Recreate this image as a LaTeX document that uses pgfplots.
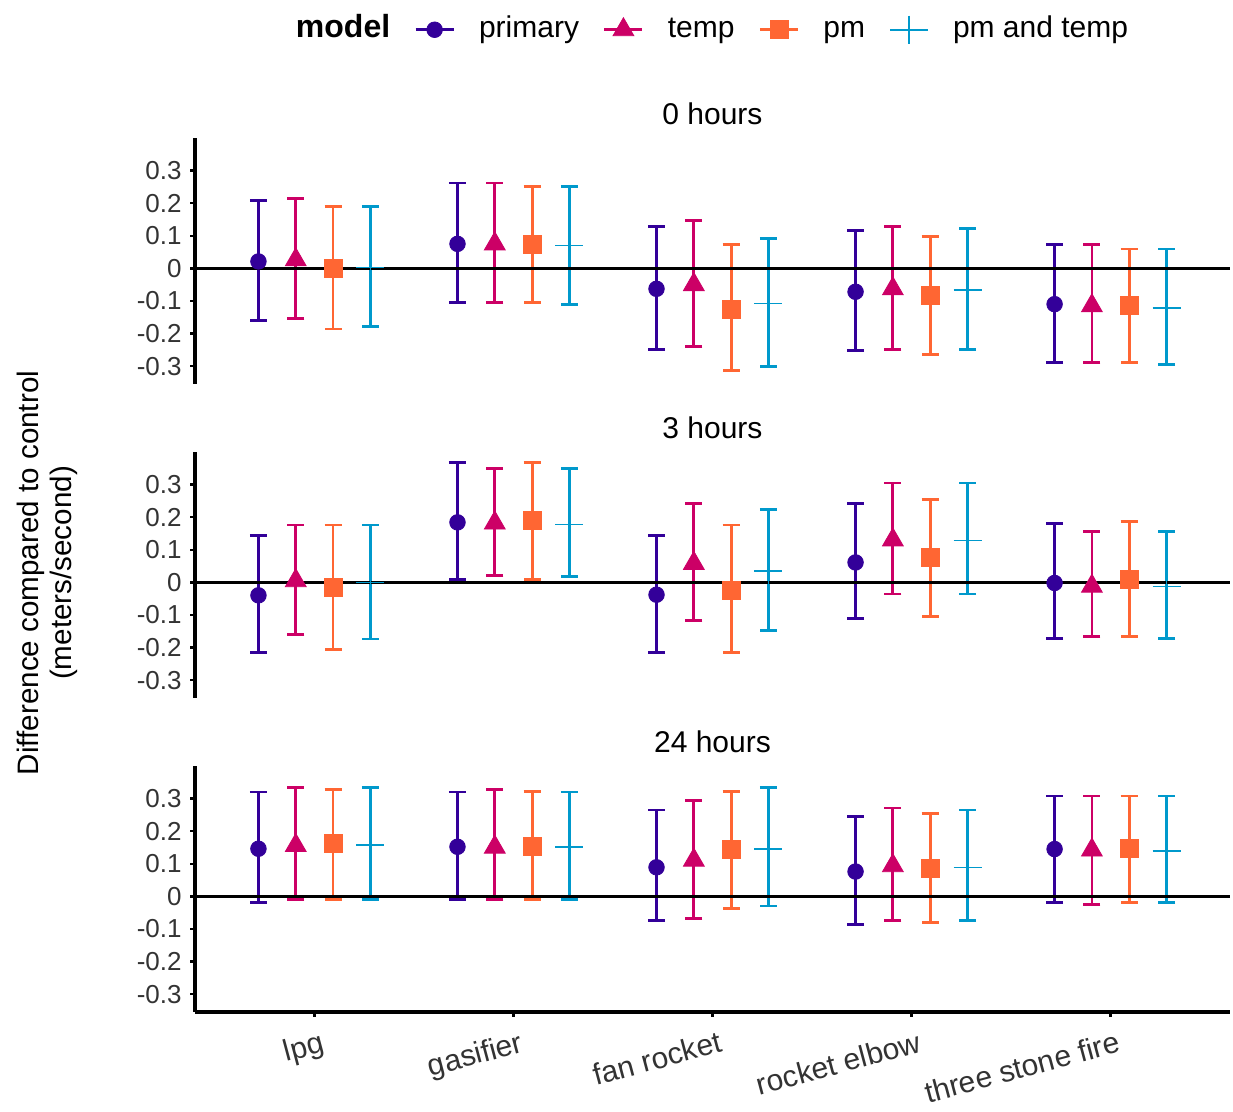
\documentclass[border=0pt]{standalone}
\usepackage{pgfplots}
\pgfplotsset{compat=1.18}
\usepackage{pgfplotstable}
\usepackage{fontspec}
\setmainfont{Liberation Sans}

\definecolor{cprim}{HTML}{330099}
\definecolor{ctemp}{HTML}{CC0066}
\definecolor{cpm}{HTML}{FF6633}
\definecolor{cpmt}{HTML}{0099CC}
\definecolor{axtext}{HTML}{333333}

% estimate, lower and upper limit per model; cat = stove index
\pgfplotstableread{
cat p      pl     ph     t      tl     th     m      ml     mh     c      cl     ch
0   0.021 -0.161  0.208  0.026 -0.154  0.214  0.000 -0.186  0.189  0.002 -0.179  0.189
1   0.075 -0.106  0.262  0.075 -0.106  0.262  0.073 -0.106  0.251  0.070 -0.112  0.251
2  -0.063 -0.248  0.128 -0.050 -0.241  0.146 -0.125 -0.314  0.073 -0.108 -0.302  0.092
3  -0.072 -0.253  0.116 -0.063 -0.248  0.128 -0.084 -0.265  0.097 -0.066 -0.248  0.121
4  -0.110 -0.289  0.073 -0.115 -0.289  0.073 -0.115 -0.289  0.059 -0.121 -0.296  0.059
}\hzero
\pgfplotstableread{
cat p      pl     ph     t      tl     th     m      ml     mh     c      cl     ch
0  -0.040 -0.215  0.143  0.005 -0.159  0.176 -0.016 -0.205  0.176  0.000 -0.174  0.176
1   0.184  0.008  0.368  0.182  0.021  0.350  0.189  0.008  0.368  0.178  0.017  0.350
2  -0.038 -0.215  0.143  0.058 -0.117  0.243 -0.026 -0.215  0.176  0.035 -0.148  0.224
3   0.061 -0.111  0.243  0.130 -0.036  0.305  0.075 -0.104  0.255  0.128 -0.036  0.305
4  -0.002 -0.173  0.181 -0.012 -0.166  0.156  0.010 -0.166  0.187 -0.013 -0.173  0.156
}\hthree
\pgfplotstableread{
cat p      pl     ph     t      tl     th     m      ml     mh     c      cl     ch
0   0.146 -0.018  0.320  0.156 -0.010  0.333  0.161 -0.010  0.328  0.158 -0.010  0.333
1   0.152 -0.010  0.320  0.151 -0.010  0.328  0.154 -0.010  0.322  0.151 -0.010  0.320
2   0.089 -0.074  0.265  0.111 -0.068  0.295  0.143 -0.037  0.321  0.145 -0.030  0.333
3   0.076 -0.086  0.246  0.094 -0.074  0.271  0.086 -0.080  0.253  0.089 -0.074  0.265
4   0.145 -0.018  0.308  0.142 -0.025  0.308  0.148 -0.018  0.308  0.139 -0.018  0.308
}\htwentyfour

\pgfplotsset{
  panel/.style={
    scale only axis, width=517.5pt, height=123pt, anchor=south west,
    xmin=-0.6, xmax=4.6, ymin=-0.355, ymax=0.400,
    axis y line*=left,
    axis line style={line width=1.6pt, black},
    ytick={-0.3,-0.2,-0.1,0,0.1,0.2,0.3},
    yticklabels={-0.3,-0.2,-0.1,0,0.1,0.2,0.3},
    tick align=outside, major tick length=2.5pt,
    tick style={line width=1.2pt, black},
    yticklabel style={font=\fontsize{13pt}{13pt}\selectfont, text=axtext, inner sep=0pt, xshift=-4pt},
    title style={at={(0.5,1)}, anchor=base, yshift=0.5pt, font=\fontsize{15pt}{15pt}\selectfont},
    clip=false,
  },
  ebar/.style={only marks, forget plot, color=#1,
    error bars/.cd, y dir=both, y explicit,
    error bar style={line width=1.4pt, color=#1},
    error mark options={rotate=90, line width=1.4pt, mark size=4.25pt, color=#1},
    /pgfplots/.cd},
  mprim/.style={mark=*, mark size=3.9pt},
  mtemp/.style={mark=triangle*, mark size=6pt},
  mpm/.style={mark=square*, mark size=4.5pt},
  mpmt/.style={mark=+, mark size=7pt, mark options={line width=0.8pt}},
  legkey/.style={line width=1.4pt, mark options={solid, line width=0.4pt},
    legend image code/.code={\draw[mark repeat=2, mark phase=2]
      plot coordinates {(0pt,0pt) (9.5pt,0pt) (19pt,0pt)};}},
}

% the four model series of one panel
\newcommand{\panelplots}[1]{%
  \addplot[mprim, ebar=cprim] table[x expr=\thisrow{cat}-0.28125, y=p,
    y error plus expr=\thisrow{ph}-\thisrow{p}, y error minus expr=\thisrow{p}-\thisrow{pl}] {#1};
  \addplot[mtemp, ebar=ctemp] table[x expr=\thisrow{cat}-0.09375, y=t,
    y error plus expr=\thisrow{th}-\thisrow{t}, y error minus expr=\thisrow{t}-\thisrow{tl}] {#1};
  \addplot[mpm, ebar=cpm] table[x expr=\thisrow{cat}+0.09375, y=m,
    y error plus expr=\thisrow{mh}-\thisrow{m}, y error minus expr=\thisrow{m}-\thisrow{ml}] {#1};
  \addplot[mpmt, ebar=cpmt] table[x expr=\thisrow{cat}+0.28125, y=c,
    y error plus expr=\thisrow{ch}-\thisrow{c}, y error minus expr=\thisrow{c}-\thisrow{cl}] {#1};
  \addplot[black, line width=1.6pt, forget plot] coordinates {(-0.6,0) (4.6,0)};
}

\begin{document}
\begin{tikzpicture}
\path[use as bounding box] (0pt,0pt) rectangle (616.5pt,556pt);

\begin{axis}[panel, at={(97.5pt,364pt)}, hide x axis, title={0 hours},
  legend columns=-1, legend cell align=left,
  legend style={draw=none, fill=none, at={(0.074,1.44)}, anchor=west, inner sep=0pt,
    font=\fontsize{15pt}{15pt}\selectfont,
    nodes={inner xsep=0pt, text height=11pt, text depth=3.5pt},
    /tikz/every odd column/.append style={column sep=12pt},
    /tikz/every even column/.append style={column sep=12pt}}]
  \addlegendimage{empty legend}\addlegendentry{\fontsize{16pt}{16pt}\selectfont\bfseries model}
  \addlegendimage{legkey, cprim, mprim}\addlegendentry{primary}
  \addlegendimage{legkey, ctemp, mtemp}\addlegendentry{temp}
  \addlegendimage{legkey, cpm, mpm}\addlegendentry{pm}
  \addlegendimage{legkey, cpmt, mark=+, mark size=7pt, mark options={line width=1pt}, line width=1pt}\addlegendentry{pm and temp}
  \panelplots{\hzero}
\end{axis}

\begin{axis}[panel, at={(97.5pt,207pt)}, hide x axis, title={3 hours}]
  \panelplots{\hthree}
\end{axis}

\begin{axis}[panel, at={(97.5pt,50pt)}, title={24 hours},
  axis x line*=bottom,
  xtick={0,1,2,3,4},
  xticklabels={lpg,gasifier,fan rocket,rocket elbow,three stone fire},
  xticklabel style={rotate=15, anchor=north east, inner sep=0pt, xshift=1pt, yshift=-7pt,
    font=\fontsize{15pt}{15pt}\selectfont, text=axtext}]
  \panelplots{\htwentyfour}
\end{axis}

\node[rotate=90, align=center, font=\fontsize{14.8pt}{16.5pt}\selectfont]
  at (23.5pt,269.5pt) {Difference compared to control\\(meters/second)};
\end{tikzpicture}
\end{document}
